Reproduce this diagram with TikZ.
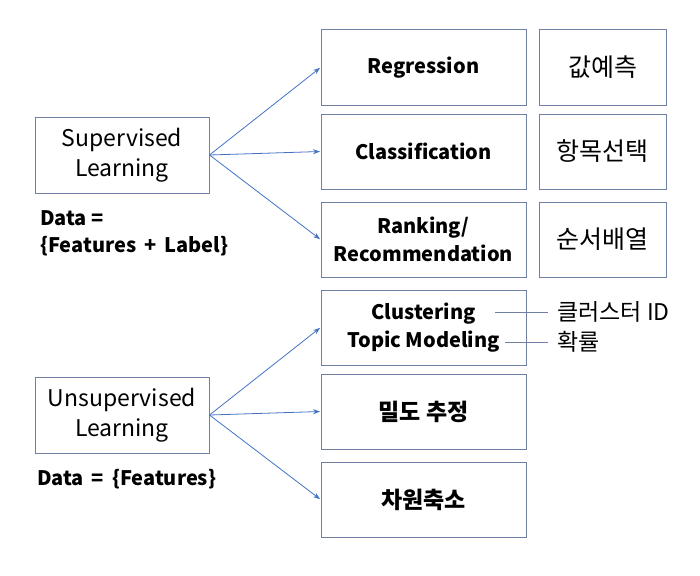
\documentclass[tikz,border=0pt]{standalone}
\usepackage{fontspec}
\setmainfont{Noto Sans CJK KR}
\usetikzlibrary{arrows.meta}
\definecolor{boxline}{RGB}{112,128,162}
\definecolor{arrowblue}{RGB}{68,114,196}
\begin{document}
\begin{tikzpicture}[x=1pt, y=-1pt, >={Stealth[length=7pt,width=5pt]},
    box/.style={draw=boxline, line width=1pt, inner sep=0pt, align=center,
        minimum width=205pt, minimum height=75pt},
    learnbox/.style={box, minimum width=174pt, minimum height=76pt,
        font=\fontsize{23}{30}\selectfont},
    taskbox/.style={box, font=\bfseries\fontsize{20}{28}\selectfont},
    kotaskbox/.style={box, font=\bfseries\fontsize{23}{28}\selectfont},
    kobox/.style={box, minimum width=127pt, font=\fontsize{25}{29}\selectfont},
    datatext/.style={anchor=west, align=left, inner sep=0pt,
        font=\bfseries\fontsize{20}{27}\selectfont},
    outtext/.style={anchor=west, inner sep=0pt, font=\fontsize{23}{28}\selectfont},
    conn/.style={->, draw=arrowblue, line width=0.8pt, shorten >=0.5pt}]
    \useasboundingbox (0,0) rectangle (700,575);

    % Supervised learning
    \node[learnbox] (sup) at (122,155) {Supervised\\Learning};
    \node[datatext] (supdata) at (40,233) {Data =\\\{Features \,+\, Label\}};

    \node[taskbox] (reg) at (423.5,67.5) {Regression};
    \node[taskbox] (cls) at (423.5,151.5) {Classification};
    \node[taskbox] (rank) at (423.5,239.5) {Ranking/\\Recommendation};

    \node[kobox] (regko) at (602.5,67.5) {값예측};
    \node[kobox] (clsko) at (602.5,151.5) {항목선택};
    \node[kobox] (rankko) at (602.5,239.5) {순서배열};

    \draw[conn] (sup.east) -- (reg.west);
    \draw[conn] (sup.east) -- (cls.west);
    \draw[conn] (sup.east) -- (rank.west);

    % Unsupervised learning
    \node[learnbox] (unsup) at (122,415) {Unsupervised\\Learning};
    \node[datatext] (unsupdata) at (37,479) {Data \,=\, \{Features\}};

    \node[taskbox] (clus) at (423.5,327.5) {Clustering\\Topic Modeling};
    \node[kotaskbox] (dens) at (423.5,411.5) {밀도 추정};
    \node[kotaskbox] (dim) at (423.5,499.5) {차원축소};

    \draw[conn] (unsup.east) -- (clus.west);
    \draw[conn] (unsup.east) -- (dens.west);
    \draw[conn] (unsup.east) -- (dim.west);

    % Clustering outputs
    \node[outtext] (clusid) at (557,312) {클러스터 ID};
    \node[outtext] (prob) at (557,342) {확률};
    \coordinate (clusidend) at (495,312);
    \coordinate (probend) at (505,342);
    \draw[boxline, line width=0.8pt] (clusidend) -- ([xshift=-9pt]clusid.west);
    \draw[boxline, line width=0.8pt] (probend) -- ([xshift=-9pt]prob.west);
\end{tikzpicture}
\end{document}
